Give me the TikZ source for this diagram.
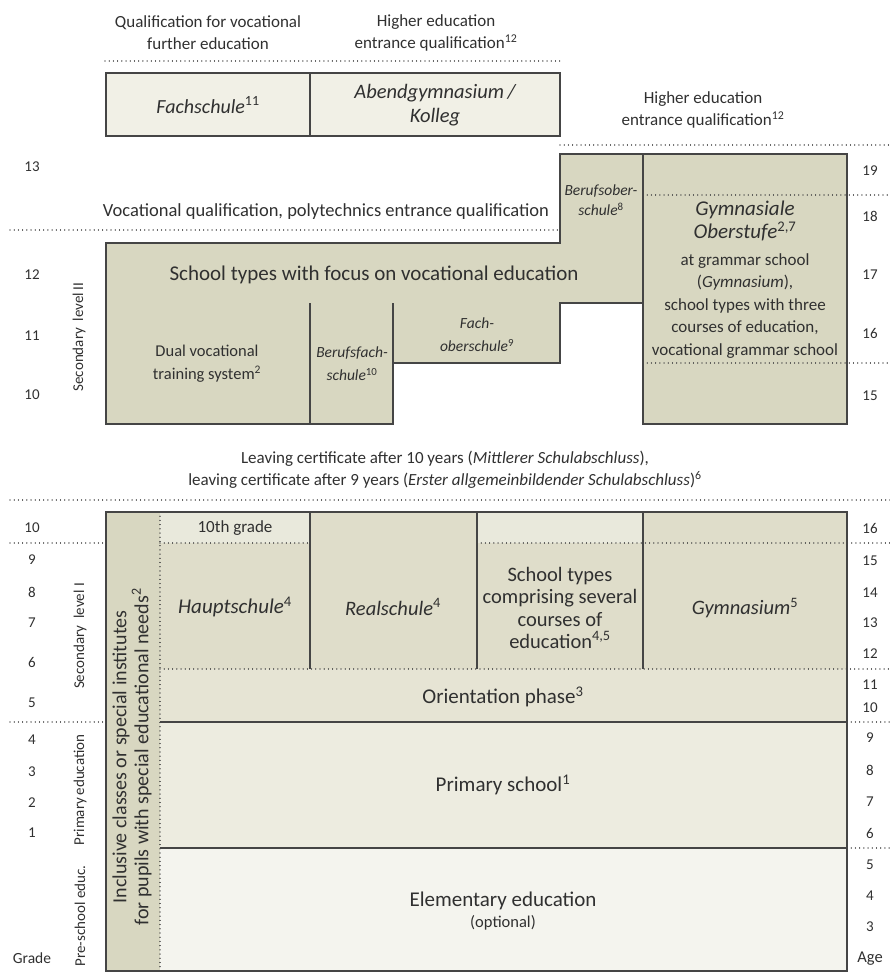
\documentclass[tikz,border=0pt]{standalone}
\usepackage{fontspec}
\setmainfont{Carlito}
\newcommand\supnum[1]{\/\textsuperscript{\upshape #1}}
\definecolor{cdark}{HTML}{D8D7C1}
\definecolor{cmid}{HTML}{DFDDCA}
\definecolor{ctenth}{HTML}{E9E9DC}
\definecolor{corient}{HTML}{E6E4D4}
\definecolor{cprim}{HTML}{EDECE0}
\definecolor{celem}{HTML}{F4F4EE}
\definecolor{ctop}{HTML}{F1F0E6}
\definecolor{cline}{HTML}{454545}
\definecolor{ctext}{HTML}{303030}
\tikzset{
  txt/.style={text=ctext, align=center, inner sep=0pt},
  big/.style={txt, font=\fontsize{21}{24}\selectfont},
  med/.style={txt, font=\fontsize{16.5}{23}\selectfont},
  sml/.style={txt, font=\fontsize{17}{22}\selectfont},
  num/.style={txt, font=\fontsize{15}{18}\selectfont},
  rot/.style={txt, rotate=90, font=\fontsize{15}{18}\selectfont},
  dots/.style={draw=cline, line width=1.2pt, dash pattern=on 0.01pt off 4.2pt, line cap=round},
  border/.style={draw=cline, line width=1.3pt},
}
\begin{document}
\begin{tikzpicture}[x=1pt,y=-1pt]
\useasboundingbox (0,0) rectangle (890,973);
% ---------- top boxes ----------
\fill[ctop] (106,73) rectangle (560,136);
\draw[border] (106,73) rectangle (560,136);
\draw[border] (310,73) -- (310,136);
\draw[dots] (105,61) -- (560,61);
% ---------- upper secondary ----------
\fill[cdark] (643,154) rectangle (847,424);
\draw[border] (643,154) rectangle (847,424);
\fill[cdark] (106,243) -- (560,243) -- (560,154) -- (643,154) -- (643,303) -- (560,303) -- (560,363) -- (393,363) -- (393,424) -- (106,424) -- cycle;
\draw[border] (106,243) -- (560,243) -- (560,154) -- (643,154) -- (643,303) -- (560,303) -- (560,363) -- (393,363) -- (393,424) -- (106,424) -- cycle;
\draw[border] (310,303) -- (310,424);
\draw[border] (393,303) -- (393,363);
\draw[dots] (560,145) -- (890,145);
\draw[dots] (10,230) -- (560,230);
\draw[dots] (643,195) -- (890,195);
\draw[dots] (643,363) -- (890,363);
% ---------- lower block ----------
\fill[cdark] (106,512) rectangle (160,971);
\fill[ctenth] (160,512) rectangle (310,543);
\fill[cmid] (160,543) rectangle (310,669);
\fill[cmid] (310,512) rectangle (477,669);
\fill[ctenth] (477,512) rectangle (643,543);
\fill[cmid] (477,543) rectangle (643,669);
\fill[cmid] (643,512) rectangle (847,669);
\fill[corient] (160,669) rectangle (847,722);
\fill[cprim] (160,722) rectangle (847,848);
\fill[celem] (160,848) rectangle (847,971);
\draw[border] (106,512) rectangle (847,971);
\draw[border] (310,512) -- (310,669);
\draw[border] (477,512) -- (477,669);
\draw[border] (643,512) -- (643,669);
\draw[border] (160,722) -- (847,722);
\draw[border] (160,848) -- (847,848);
\draw[dots] (10,500) -- (890,500);
\draw[dots] (160,512) -- (160,971);
\draw[dots] (10,543) -- (106,543);
\draw[dots] (160,543) -- (310,543);
\draw[dots] (477,543) -- (890,543);
\draw[dots] (160,669) -- (890,669);
\draw[dots] (10,722) -- (106,722);
\draw[dots] (847,722) -- (890,722);
\draw[dots] (847,848) -- (890,848);
% ---------- texts: top ----------
\node[sml] (q1) at (208,33) {Qualification for vocational\\further education};
\node[sml] (q2) at (436,33) {Higher education\\entrance qualification\textsuperscript{12}};
\node[txt, font=\fontsize{20}{22}\selectfont\itshape] (fs) at (208,105) {Fachschule\supnum{11}};
\node[txt, font=\fontsize{20.5}{24}\selectfont\itshape] (ag) at (435,105) {Abendgymnasium\,/\\Kolleg};
\node[sml] (q3) at (703,110) {Higher education\\entrance qualification\textsuperscript{12}};
\node[txt, font=\fontsize{18.5}{22}\selectfont] (vq) at (326,212) {Vocational qualification,\ polytechnics entrance qualification};
% ---------- texts: upper secondary ----------
\node[txt, font=\fontsize{15.5}{20}\selectfont\itshape] (bos) at (601,200) {Berufsober-\\schule\supnum{8}};
\node[txt, font=\fontsize{21}{23.5}\selectfont\itshape] (go) at (745,221) {Gymnasiale\\Oberstufe\supnum{2,7}};
\node[txt, font=\fontsize{17}{22.5}\selectfont] (go2) at (745,306) {at grammar school\\(\textit{Gymnasium}),\\school types with three\\courses of education,\\vocational grammar school};
\node[big] (voc) at (374,275) {School types with focus on vocational education};
\node[med] (dual) at (207,364) {Dual vocational\\training system\textsuperscript{2}};
\node[txt, font=\fontsize{15.5}{23}\selectfont\itshape] (bfs) at (352,364) {Berufsfach-\\schule\supnum{10}};
\node[txt, font=\fontsize{15.5}{23}\selectfont\itshape] (fos) at (477,335) {Fach-\\oberschule\supnum{9}};
\node[rot] (s2) at (79,337) {Secondary\ \ level\,II};
\node[num] (g13) at (32,167) {13};
\node[num] (g12) at (32,275) {12};
\node[num] (g11) at (32,336) {11};
\node[num] (g10u) at (32,395) {10};
\node[num] (a19) at (870,171) {19};
\node[num] (a18) at (870,216) {18};
\node[num] (a17) at (870,275) {17};
\node[num] (a16u) at (870,333) {16};
\node[num] (a15u) at (870,396) {15};
\node[sml] (leave) at (445,470) {Leaving certificate after 10 years (\textit{Mittlerer Schulabschluss}),\\leaving certificate after 9 years (\textit{Erster allgemeinbildender Schulabschluss})\textsuperscript{6}};
% ---------- texts: lower block ----------
\node[txt, font=\fontsize{17}{20}\selectfont] (tenth) at (235,528) {10th grade};
\node[txt, font=\fontsize{21}{22}\selectfont\itshape] (haupt) at (235,607) {Hauptschule\supnum{4}};
\node[txt, font=\fontsize{20.5}{22}\selectfont\itshape] (real) at (393,607) {Realschule\supnum{4}};
\node[txt, font=\fontsize{20.5}{22.3}\selectfont] (comp) at (560,608) {School types\\comprising several\\courses of\\education\textsuperscript{4,5}};
\node[txt, font=\fontsize{20.5}{22}\selectfont\itshape] (gym) at (745,608) {Gymnasium\supnum{5}};
\node[big] (orient) at (503,697) {Orientation phase\textsuperscript{3}};
\node[big] (prim) at (503,785) {Primary school\textsuperscript{1}};
\node[big] (elem) at (503,901) {Elementary education};
\node[txt, font=\fontsize{16.5}{20}\selectfont] (opt) at (503,923) {(optional)};
\node[txt, rotate=90, font=\fontsize{20}{22}\selectfont] (incl) at (132,757) {Inclusive classes or special institutes\\for pupils with special educational needs\textsuperscript{2}};
\node[rot] (s1) at (80,636) {Secondary\ \ level\ I};
\node[rot] (pe) at (80,790) {Primary\,education};
\node[rot] (pre) at (80,916) {Pre-school educ.};
\node[num] (g10) at (32,528) {10};
\node[num] (g9) at (32,560) {9};
\node[num] (g8) at (32,592) {8};
\node[num] (g7) at (32,623) {7};
\node[num] (g6) at (32,662) {6};
\node[num] (g5) at (32,703) {5};
\node[num] (g4) at (32,740) {4};
\node[num] (g3) at (32,772) {3};
\node[num] (g2) at (32,803) {2};
\node[num] (g1) at (32,833) {1};
\node[txt, font=\fontsize{15.5}{18}\selectfont] (grade) at (32,958) {Grade};
\node[num] (a16) at (870,528) {16};
\node[num] (a15) at (870,561) {15};
\node[num] (a14) at (870,593) {14};
\node[num] (a13) at (870,623) {13};
\node[num] (a12) at (870,654) {12};
\node[num] (a11) at (870,685) {11};
\node[num] (a10) at (870,708) {10};
\node[num] (a9) at (870,738) {9};
\node[num] (a8) at (870,770) {8};
\node[num] (a7) at (870,802) {7};
\node[num] (a6) at (870,833) {6};
\node[num] (a5) at (870,865) {5};
\node[num] (a4) at (870,896) {4};
\node[num] (a3) at (870,927) {3};
\node[txt, font=\fontsize{16.5}{18}\selectfont] (age) at (870,959) {Age};
\end{tikzpicture}
\end{document}
